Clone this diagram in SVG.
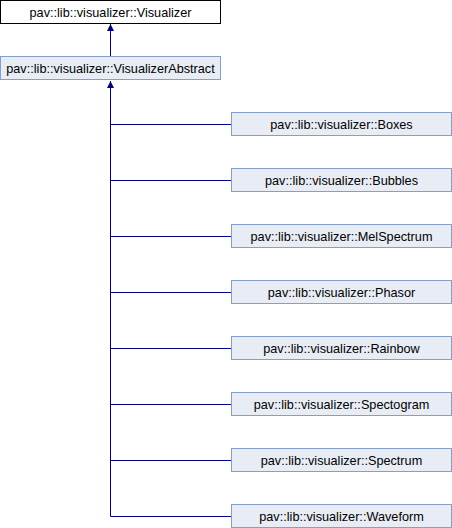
<svg xmlns="http://www.w3.org/2000/svg" width="452" height="528" viewBox="0 0 452 528">
<style>
.box{fill:#e8ecf4;stroke:#84a0c8;stroke-width:1}
.top{fill:#ffffff;stroke:#000000;stroke-width:1}
text{font-family:"Liberation Sans",Arial,sans-serif;font-size:12.7px;fill:#000;text-anchor:middle}
.ln{stroke:#000080;stroke-width:1;fill:none}
</style>
<defs>
<marker id="arr" viewBox="0 0 8 8" refX="0" refY="4" markerWidth="8" markerHeight="8" markerUnits="userSpaceOnUse" orient="auto">
<path d="M0,4 L7,0.5 L7,7.5 Z" fill="#000080"/>
</marker>
</defs>
<g id="connectors">
<path class="ln" d="M110.5,24 V56" marker-start="url(#arr)"/>
<path class="ln" d="M110.5,81 V516.5 H231" marker-start="url(#arr)"/>
<path class="ln" d="M110.5,124.5 H231"/>
<path class="ln" d="M110.5,180.5 H231"/>
<path class="ln" d="M110.5,236.5 H231"/>
<path class="ln" d="M110.5,292.5 H231"/>
<path class="ln" d="M110.5,348.5 H231"/>
<path class="ln" d="M110.5,404.5 H231"/>
<path class="ln" d="M110.5,460.5 H231"/>
</g>
<g id="Visualizer"><rect class="top" x="0.5" y="0.5" width="220" height="23"/><text x="110.5" y="17">pav::lib::visualizer::Visualizer</text></g>
<g id="VisualizerAbstract"><rect class="box" x="0.5" y="56.5" width="220" height="23"/><text x="110.5" y="73">pav::lib::visualizer::VisualizerAbstract</text></g>
<g id="Boxes"><rect class="box" x="231.5" y="112.5" width="220" height="23"/><text x="341.5" y="129">pav::lib::visualizer::Boxes</text></g>
<g id="Bubbles"><rect class="box" x="231.5" y="168.5" width="220" height="23"/><text x="341.5" y="185">pav::lib::visualizer::Bubbles</text></g>
<g id="MelSpectrum"><rect class="box" x="231.5" y="224.5" width="220" height="23"/><text x="341.5" y="241">pav::lib::visualizer::MelSpectrum</text></g>
<g id="Phasor"><rect class="box" x="231.5" y="280.5" width="220" height="23"/><text x="341.5" y="297">pav::lib::visualizer::Phasor</text></g>
<g id="Rainbow"><rect class="box" x="231.5" y="336.5" width="220" height="23"/><text x="341.5" y="353">pav::lib::visualizer::Rainbow</text></g>
<g id="Spectogram"><rect class="box" x="231.5" y="392.5" width="220" height="23"/><text x="341.5" y="409">pav::lib::visualizer::Spectogram</text></g>
<g id="Spectrum"><rect class="box" x="231.5" y="448.5" width="220" height="23"/><text x="341.5" y="465">pav::lib::visualizer::Spectrum</text></g>
<g id="Waveform"><rect class="box" x="231.5" y="504.5" width="220" height="23"/><text x="341.5" y="521">pav::lib::visualizer::Waveform</text></g>
</svg>
